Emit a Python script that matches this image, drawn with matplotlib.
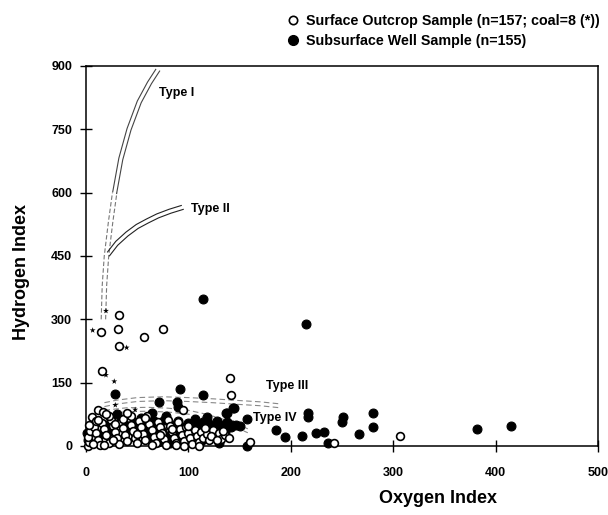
import matplotlib
matplotlib.use("Agg")
import matplotlib.pyplot as plt
from matplotlib.lines import Line2D
import matplotlib.transforms as mtransforms

plt.rcParams['font.family'] = ['Liberation Sans', 'DejaVu Sans']
plt.rcParams['font.weight'] = 'bold'

# ---------------- data (Oxygen Index, Hydrogen Index) ----------------
surface_oi = [32.5, 14.3, 31.6, 32.5, 57, 75.2, 15.9, 140.6, 141.6, 306.6, 242.5, 160, 95, 118,
              12, 17,
              2, 3, 2, 4, 8, 10, 12, 14, 16, 18, 20, 22, 24, 26, 28, 30, 32, 34, 36, 38, 40,
              42, 44, 46, 48, 50, 52, 54, 56, 58, 60, 62, 64, 66, 68, 70, 72, 74, 76, 78,
              80, 82, 84, 86, 88, 90, 92, 94, 96, 98, 100, 102, 104, 106, 108, 110, 112, 114,
              118, 120, 124, 126, 130, 132, 136, 140, 6, 10, 22, 28, 36, 44, 7, 18, 26, 50,
              64, 84, 96, 116, 122, 128, 134, 3, 12, 20, 40, 58, 72, 88, 100, 110]
surface_hi = [311, 269, 276, 237, 258, 276, 177, 162, 120, 24, 6, 10, 85, 34,
              85, 81,
              0, 10, 22, 35, 45, 30, 15, 2, 55, 40, 25, 8, 62, 48, 32, 18, 4, 58, 42, 26, 12,
              66, 50, 36, 20, 6, 60, 44, 28, 14, 70, 52, 38, 22, 8, 58, 44, 30, 16, 2,
              62, 48, 34, 20, 6, 56, 40, 26, 12, 44, 30, 18, 4, 38, 24, 10, 34, 20,
              28, 14, 38, 22, 30, 16, 26, 20, 68, 60, 70, 52, 64, 72, 5, 3, 14, 28,
              2, 40, 0, 42, 24, 14, 36, 50, 62, 76, 78, 66, 26, 2, 48, 0]

coal_oi = [19.5, 6.5, 39.7, 19.5, 27.6, 28.6, 48]
coal_hi = [320, 274, 233, 168, 153, 97, 86]

well_oi = [114, 215, 382, 415, 280, 280, 267, 251, 250, 232, 225, 236, 210.6, 217, 217, 186, 194,
           157, 146.5, 143, 144, 138, 157, 114, 92, 71, 88.5, 90, 28, 137, 144.5, 150,
           1, 2, 5, 30, 34, 38, 42, 46, 50, 54, 40, 48, 58, 62, 66, 70, 74, 76, 80, 84,
           86, 90, 94, 96, 100, 102, 104, 108, 110, 114, 116, 120, 122, 126, 128, 132, 134,
           138, 142, 60, 70, 88, 98, 112, 130, 20, 24, 14, 64, 78, 56, 82, 92, 106, 118,
           124, 136, 66, 74, 86, 100]
well_hi = [347, 290, 40, 47, 77, 46, 28, 69, 57, 34, 30, 6, 24, 77, 68, 38, 22,
           0, 50, 50, 91, 77, 65, 120, 134, 105, 105, 93, 124, 77, 89, 47,
           30, 15, 42, 75, 62, 50, 70, 58, 46, 66, 40, 30, 52, 40, 60, 48, 36, 62, 24, 50,
           38, 60, 46, 30, 54, 40, 22, 48, 32, 58, 44, 52, 36, 46, 60, 50, 40,
           56, 46, 20, 10, 14, 8, 12, 8, 50, 36, 28, 78, 72, 35, 8, 25, 65, 68,
           30, 34, 30, 22, 44, 12]

type1_oi = [17, 18, 20, 24, 28, 34, 42, 52, 62, 70]
type1_hi = [300, 380, 450, 530, 600, 680, 750, 815, 860, 890]
type2_oi = [22, 30, 40, 50, 60, 70, 82, 94]
type2_hi = [455, 480, 502, 520, 533, 545, 556, 565]
type3_oi = [18, 30, 50, 75, 100, 125, 150, 170, 190]
type3_hi = [98, 104, 110, 112, 110, 107, 103, 100, 95]
type4_oi = [18, 40, 60, 80, 100, 115, 130, 145, 158]
type4_hi = [80, 86, 87, 85, 80, 72, 62, 50, 36]

type_labels = ["Type I", "Type II", "Type III", "Type IV"]
label_oi = [71, 103, 176, 163]
label_hi = [836, 562, 142, 66]

x_ticks = [0, 100, 200, 300, 400, 500]
y_ticks = [0, 150, 300, 450, 600, 750, 900]

# ---------------- figure ----------------
fig = plt.figure(figsize=(6.08, 5.15), dpi=100)
ax = fig.add_axes([86/608, 1-446/515, 512/608, 380/515])
ax.set_xlim(0, 500)
ax.set_ylim(0, 900)


def band(xs, ys, dx, dy, color, ls, lw=0.8):
    for s in (-1, 1):
        tr = mtransforms.offset_copy(ax.transData, fig=fig, x=s*dx, y=s*dy, units='points')
        ax.plot(xs, ys, color=color, ls=ls, lw=lw, transform=tr, zorder=1)


# Type I: lower dashed, upper solid
band(type1_oi[:5], type1_hi[:5], 1.6, 0, '#777777', (0, (4, 2)))
band(type1_oi[4:], type1_hi[4:], 1.4, -0.6, '#444444', '-')
band(type2_oi, type2_hi, -0.7, 1.4, '#222222', '-')
band(type3_oi, type3_hi, 0, 1.4, '#888888', (0, (5, 3)))
band(type4_oi, type4_hi, 0, 1.4, '#888888', (0, (5, 3)))

ax.scatter(well_oi, well_hi, s=6.4**2, facecolor='black', edgecolor='black', lw=0.8,
           zorder=3, clip_on=False)
ax.scatter(surface_oi, surface_hi, s=5.6**2, facecolor='white', edgecolor='black', lw=1.2,
           zorder=4, clip_on=False)
ax.scatter(coal_oi, coal_hi, s=20, marker='*', facecolor='black', edgecolor='none', zorder=5)

for t, x, y in zip(type_labels, label_oi, label_hi):
    ax.text(x, y, t, fontsize=9, fontweight='bold', ha='left', va='center', zorder=6)

ax.set_xticks(x_ticks)
ax.set_yticks(y_ticks)
ax.tick_params(direction='inout', length=8, width=1, labelsize=9)
ax.tick_params(axis='x', pad=11)
ax.tick_params(axis='y', pad=6)
for lab in ax.get_xticklabels() + ax.get_yticklabels():
    lab.set_fontweight('bold')
for sp in ax.spines.values():
    sp.set_linewidth(1.1)

ax.set_xlabel("Oxygen Index", fontsize=13, fontweight='bold')
ax.set_ylabel("Hydrogen Index", fontsize=13, fontweight='bold')
ax.xaxis.set_label_coords(0.6875, -0.115)
ax.yaxis.set_label_coords(-0.11, 0.458)

handles = [Line2D([], [], ls='none', marker='o', ms=6, mfc='white', mec='black', mew=1.2),
           Line2D([], [], ls='none', marker='o', ms=7, mfc='black', mec='black')]
labels = ["Surface Outcrop Sample (n=157; coal=8 (*))", "Subsurface Well Sample (n=155)"]
fig.legend(handles, labels, loc='upper left', bbox_to_anchor=(272/608, 1-1/515),
           frameon=False, prop={'size': 10.3, 'weight': 'bold'}, handletextpad=0.3,
           labelspacing=0.45, handlelength=1.2)

fig.savefig("out.png", dpi=100)
